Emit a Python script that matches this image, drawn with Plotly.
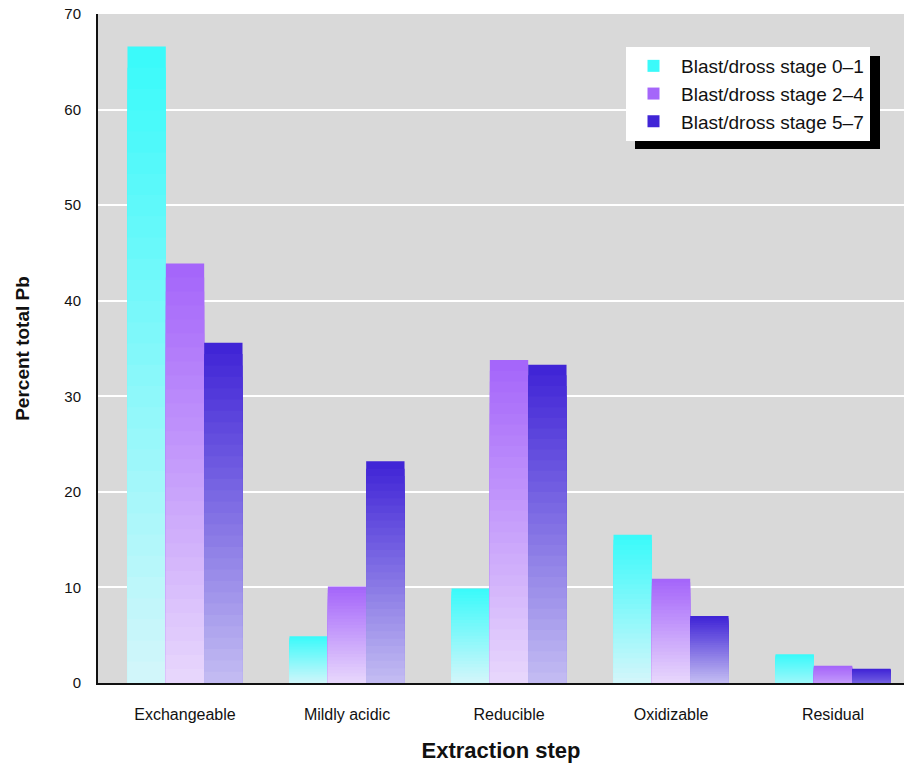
import plotly.graph_objects as go

categories = ["Exchangeable", "Mildly acidic", "Reducible", "Oxidizable", "Residual"]
series_names = ["Blast/dross stage 0\u20131", "Blast/dross stage 2\u20134", "Blast/dross stage 5\u20137"]
stage_0_1 = [66.6, 4.9, 9.9, 15.5, 3.0]
stage_2_4 = [43.9, 10.1, 33.8, 10.9, 1.8]
stage_5_7 = [35.6, 23.2, 33.3, 7.0, 1.5]
y_ticks = [0, 10, 20, 30, 40, 50, 60, 70]

series_values = [stage_0_1, stage_2_4, stage_5_7]
top_colors = [(56, 250, 250), (164, 100, 250), (62, 34, 214)]
bottom_colors = [(212, 246, 250), (232, 216, 252), (196, 189, 242)]

N_SEG = 30


def mix(c1, c2, t):
    return "rgb(%d,%d,%d)" % tuple(round(a + (b - a) * t) for a, b in zip(c1, c2))


fig = go.Figure()
for s, (name, vals) in enumerate(zip(series_names, series_values)):
    # Overlaid bars from the full height down to the shortest slice:
    # each shorter bar is drawn on top, so the bar shows a vertical gradient.
    for k in reversed(range(N_SEG)):
        t = (k + 0.5) / N_SEG  # 0 at the bottom of a bar, 1 at the top
        cols = []
        for v in vals:
            fade = min(1.0, 0.15 + v / 6.0)
            cols.append(mix(top_colors[s], bottom_colors[s], fade * (1 - t)))
        fig.add_trace(go.Bar(
            x=categories,
            y=[v * (k + 1) / N_SEG for v in vals],
            name=name,
            legendgroup=name,
            showlegend=(k == N_SEG - 1),
            offsetgroup=str(s),
            marker=dict(color=cols, line=dict(width=0)),
            customdata=vals,
            hovertemplate="%{x}<br>" + name + ": %{customdata}%<extra></extra>",
            hoverinfo="skip" if k != N_SEG - 1 else None,
        ))

tick_font = dict(family="Liberation Sans, Arial, sans-serif", size=16, color="#111111")

fig.update_layout(
    width=904,
    height=773,
    margin=dict(l=98, r=0, t=14, b=90),
    paper_bgcolor="white",
    plot_bgcolor="#d9d9d9",
    barmode="group",
    bargap=0.29,
    bargroupgap=0,
    xaxis=dict(
        type="category",
        range=[-0.537, 4.438],
        showgrid=False,
        showline=True,
        linecolor="#111111",
        linewidth=2,
        ticks="",
        tickfont=tick_font,
        ticklabelstandoff=16,
        title=dict(text="Extraction step", standoff=20,
                   font=dict(family="Liberation Sans, Arial, sans-serif", size=22, color="#111111", weight="bold")),
    ),
    yaxis=dict(
        range=[0, 70],
        tickvals=y_ticks,
        showgrid=True,
        gridcolor="white",
        gridwidth=2,
        zeroline=False,
        showline=True,
        linecolor="#111111",
        linewidth=2,
        ticks="",
        tickfont=dict(family="Liberation Sans, Arial, sans-serif", size=15, color="#111111"),
        ticklabelstandoff=12,
        title=dict(text="Percent total Pb", standoff=30,
                   font=dict(family="Liberation Sans, Arial, sans-serif", size=19, color="#111111", weight="bold")),
    ),
    legend=dict(
        x=(626 - 98) / 806, y=(683 - 47) / 669, xanchor="left", yanchor="top",
        bgcolor="white",
        borderwidth=0,
        itemwidth=45,
        font=dict(family="Liberation Sans, Arial, sans-serif", size=19, color="#111111"),
        traceorder="normal",
    ),
    showlegend=True,
    shapes=[dict(
        type="rect", xref="paper", yref="paper",
        x0=(635 - 98) / 806, x1=(880 - 98) / 806,
        y0=(683 - 149) / 669, y1=(683 - 56) / 669,
        fillcolor="black", line=dict(width=0), layer="above",
    )],
)

fig.write_html("out.html")
